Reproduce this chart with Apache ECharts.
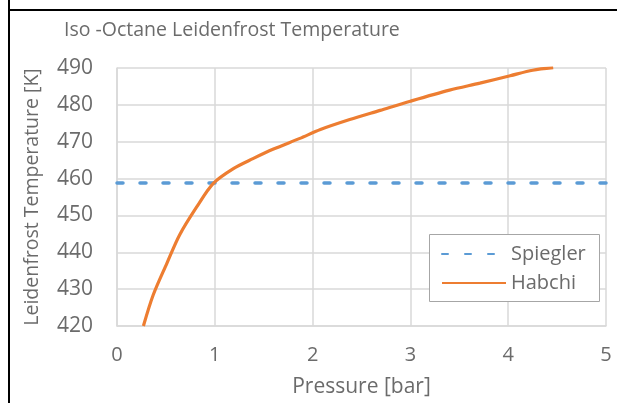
<!DOCTYPE html>
<html><head><meta charset="utf-8">
<script src="https://cdn.jsdelivr.net/npm/echarts@6/dist/echarts.min.js"></script>
<style>html,body{margin:0;padding:0;background:#fff}#c{width:617px;height:403px}</style>
</head><body><div id="c"></div>
<script>
const titleText = 'Iso -Octane Leidenfrost Temperature';
const xName = 'Pressure [bar]';
const yName = 'Leidenfrost Temperature [K]';
const spieglerP = [0, 5];
const spieglerT = [458.8, 458.8];
const habchiP = [0.27, 0.37, 0.51, 0.64, 0.815, 0.985, 1.19, 1.39, 1.60, 1.87, 2.08, 2.38, 2.69, 3.00, 3.40, 3.71, 4.02, 4.25, 4.46];
const habchiT = [420, 428.4, 437, 444.7, 452.3, 458.7, 462.7, 465.4, 468, 470.9, 473.3, 476, 478.5, 481, 484, 485.9, 487.9, 489.4, 490.1];
const legendNames = ['Spiegler', 'Habchi'];

const FONT = 'Open Sans';
const TXT = '#6b6b6b';
const chart = echarts.init(document.getElementById('c'), null, {renderer: 'canvas'});
chart.setOption({
  animation: false,
  backgroundColor: '#fff',
  title: {text: titleText, left: 59, top: 15, textStyle: {fontFamily: FONT, fontSize: 19.5, fontWeight: 'normal', color: TXT}},
  grid: {left: 117, right: 11, top: 68, bottom: 77, containLabel: false},
  graphic: [
    {type: 'line', shape: {x1: 9, y1: 0, x2: 9, y2: 403}, style: {stroke: '#000', lineWidth: 2}},
    {type: 'line', shape: {x1: 8, y1: 10, x2: 617, y2: 10}, style: {stroke: '#000', lineWidth: 2}},
    {type: 'rect', shape: {x: 429.5, y: 234.5, width: 170, height: 67}, style: {fill: '#fff', stroke: '#a6a6a6', lineWidth: 1}, z: 50}
  ],
  legend: {
    data: legendNames, orient: 'vertical', left: 436, top: 239, itemGap: 9,
    itemWidth: 64, itemHeight: 22, z: 60,
    itemStyle: {opacity: 0},
    textStyle: {fontFamily: FONT, fontSize: 20, color: TXT}
  },
  xAxis: {
    type: 'value', min: 0, max: 5, interval: 1,
    name: xName, nameLocation: 'middle', nameGap: 51,
    nameTextStyle: {fontFamily: FONT, fontSize: 21, color: TXT},
    axisLine: {show: true, lineStyle: {color: '#d9d9d9', width: 1.5}},
    axisTick: {show: false},
    axisLabel: {fontFamily: FONT, fontSize: 20, color: TXT, margin: 19},
    splitLine: {show: true, lineStyle: {color: '#d9d9d9', width: 1.5}}
  },
  yAxis: {
    type: 'value', min: 420, max: 490, interval: 10,
    name: yName, nameLocation: 'middle', nameGap: 75, nameRotate: 90,
    nameTextStyle: {fontFamily: FONT, fontSize: 19.5, color: TXT},
    axisLine: {show: true, lineStyle: {color: '#d9d9d9', width: 1.5}},
    axisTick: {show: false},
    axisLabel: {fontFamily: FONT, fontSize: 21, color: TXT, margin: 24},
    splitLine: {show: true, lineStyle: {color: '#d9d9d9', width: 1.5}}
  },
  series: [
    {name: legendNames[0], type: 'line', data: spieglerP.map((p, i) => [p, spieglerT[i]]),
     showSymbol: false, symbol: 'none', lineStyle: {color: '#5b9bd5', width: 3.5, type: [6, 17], cap: 'round'}, itemStyle: {color: '#5b9bd5'}},
    {name: legendNames[1], type: 'line', data: habchiP.map((p, i) => [p, habchiT[i]]),
     showSymbol: false, symbol: 'none', smooth: 0.3, clip: true, lineStyle: {color: '#ed7d31', width: 3.2}, itemStyle: {color: '#ed7d31'}}
  ]
});
</script></body></html>
